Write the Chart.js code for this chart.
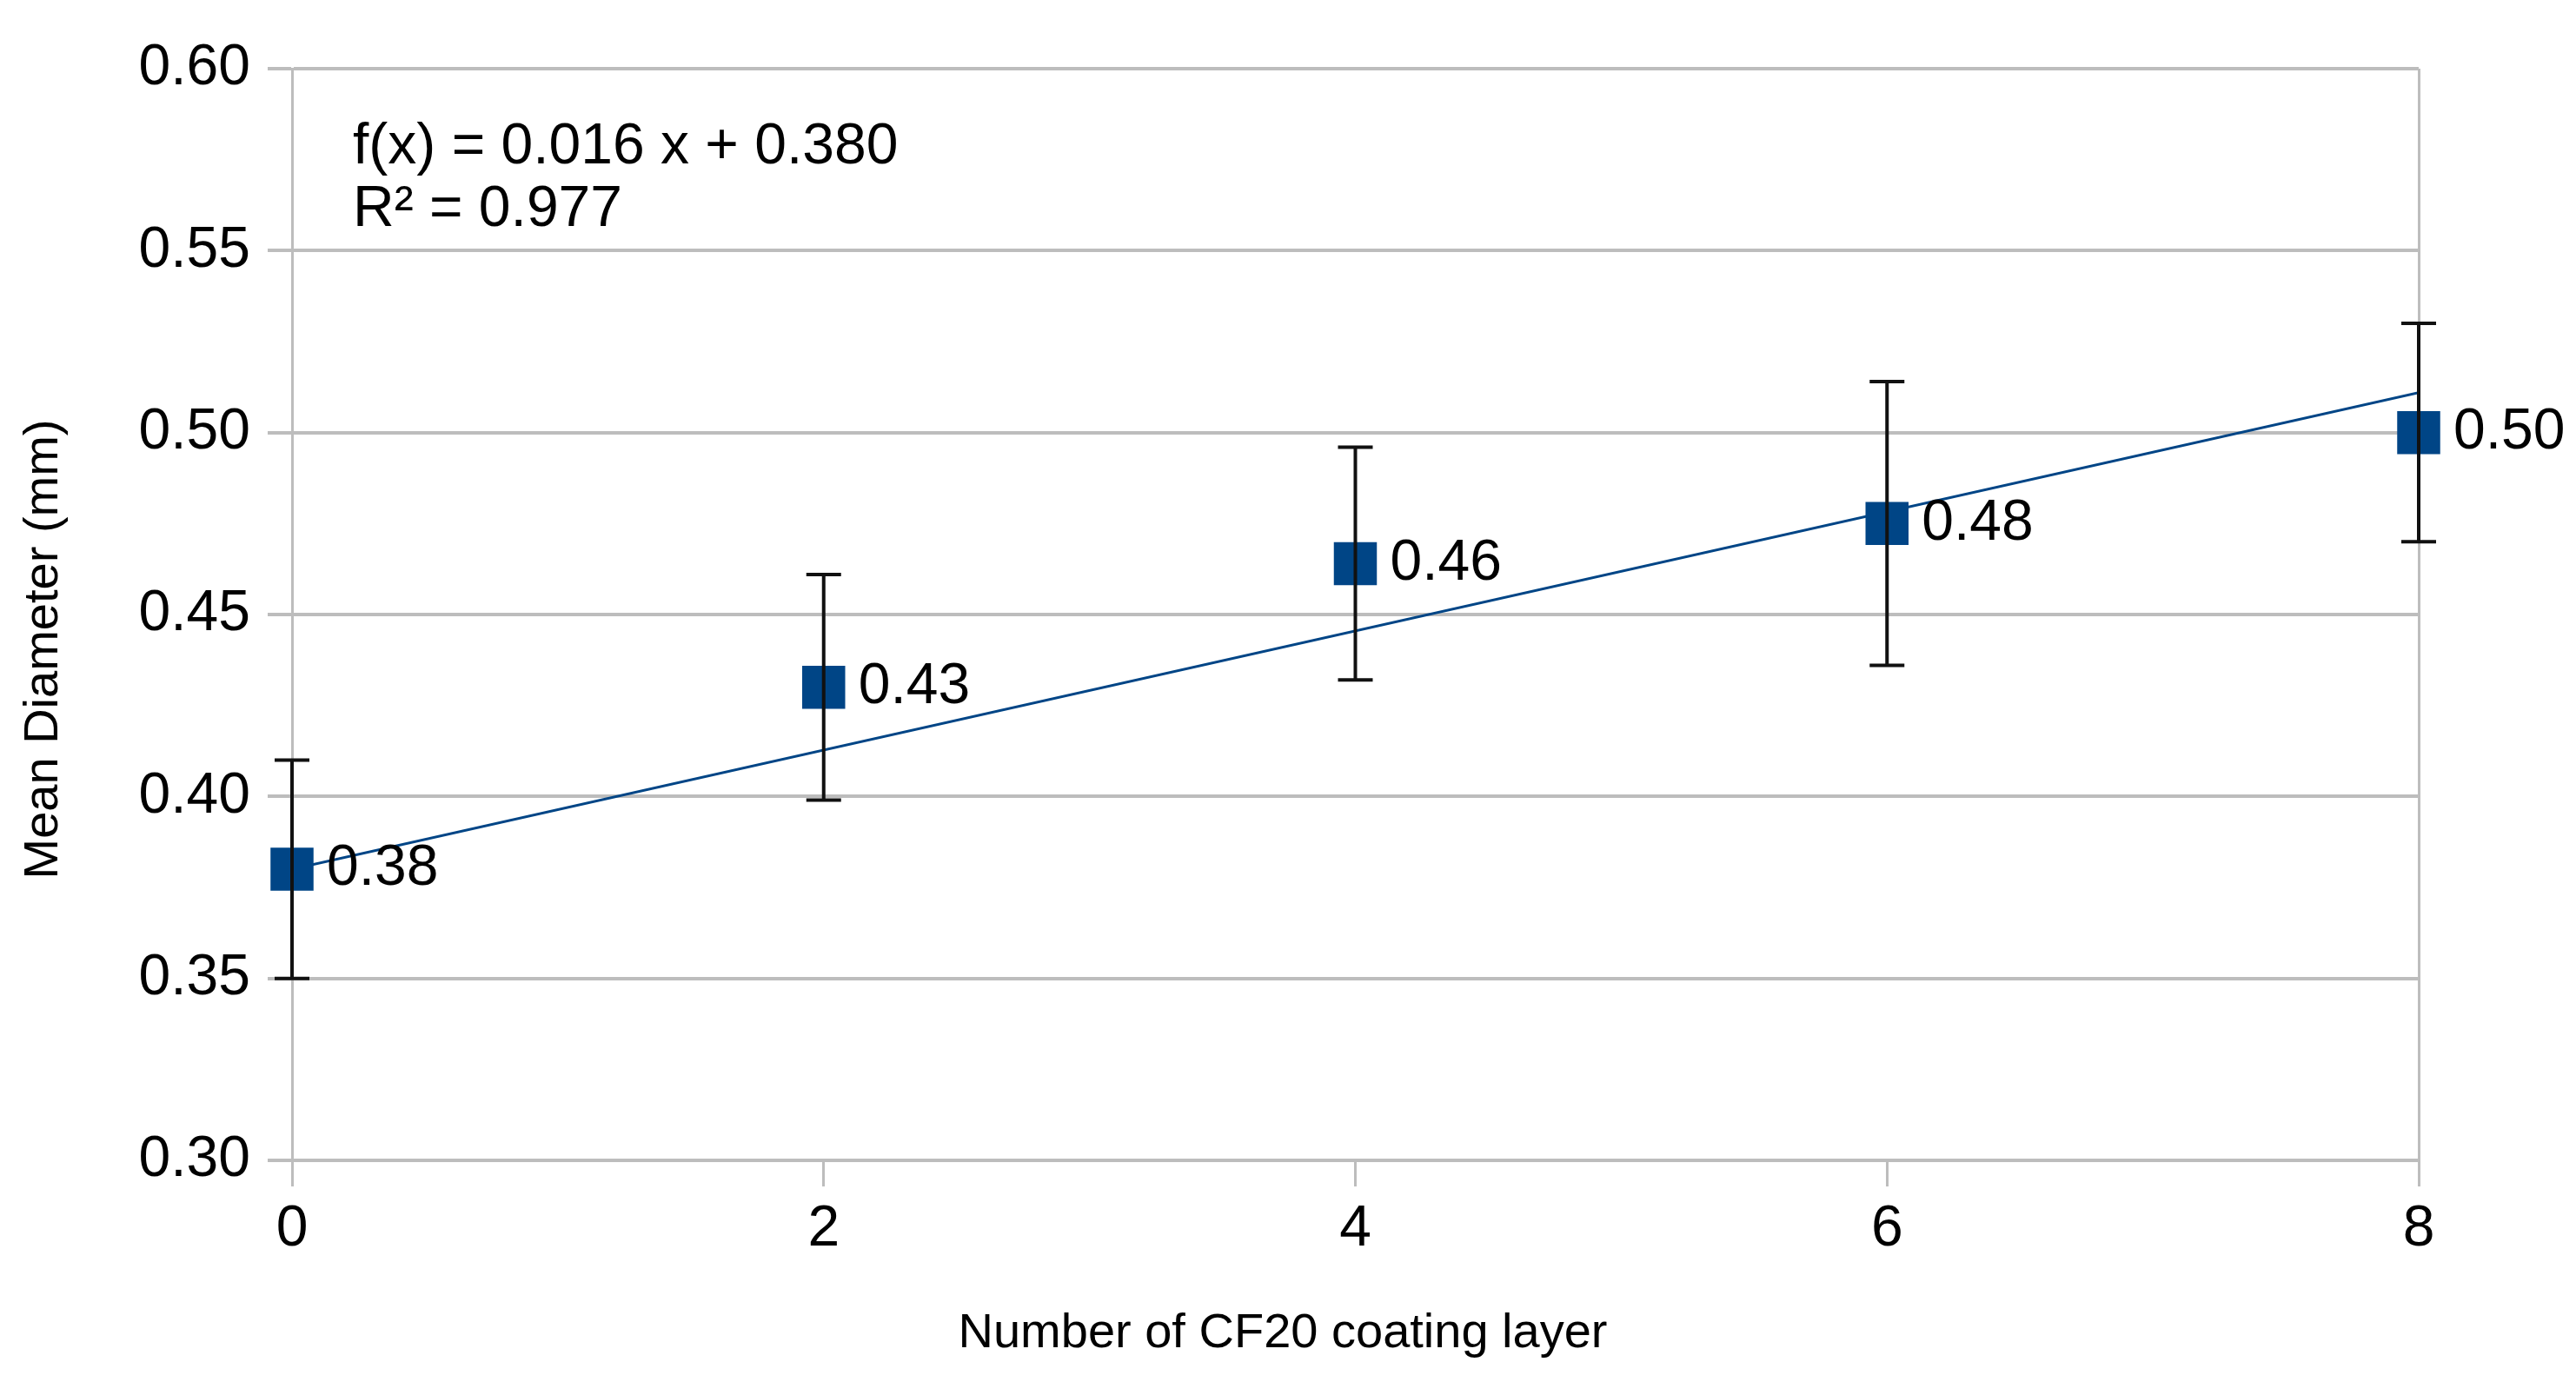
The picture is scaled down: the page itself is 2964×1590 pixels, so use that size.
<!DOCTYPE html>
<html lang="en">
<head>
  <meta charset="UTF-8" />
  <title>Mean Diameter vs CF20 coating layers</title>
  <script src="https://cdn.jsdelivr.net/npm/chart.js"></script>
  <style>
    html, body { margin: 0; padding: 0; background: #fff; }
    #wrap { width: 2964px; height: 1590px; }
  </style>
</head>
<body>
  <div id="wrap"><canvas id="chart" width="2964" height="1590"></canvas></div>
  <script>
    // data
    const layers = [0, 2, 4, 6, 8];
    const meanDiameter = [0.380, 0.430, 0.464, 0.475, 0.500];
    const errorSize = [0.030, 0.031, 0.032, 0.039, 0.030];
    const trendX = [0, 8];
    const trendY = [0.380, 0.511];
    const equationLines = ['f(x) = 0.016 x + 0.380', 'R\u00b2 = 0.977'];
    const yTicks = [0.30, 0.35, 0.40, 0.45, 0.50, 0.55, 0.60];
    const xTicks = [0, 2, 4, 6, 8];
    const xTitle = 'Number of CF20 coating layer';
    const yTitle = 'Mean Diameter (mm)';

    const FONT = '"Liberation Sans", Arial, sans-serif';
    const BLUE = '#004586';
    const GRID = '#bdbdbd';

    const fmt = v => (Math.round(v * 100 + 1e-6) / 100).toFixed(2);

    const extras = {
      id: 'extras',
      afterDatasetsDraw(chart) {
        const { ctx, scales: { x, y } } = chart;
        ctx.save();
        // error bars
        ctx.strokeStyle = '#111';
        ctx.lineWidth = 4;
        layers.forEach((lx, i) => {
          const px = x.getPixelForValue(lx);
          const top = y.getPixelForValue(meanDiameter[i] + errorSize[i]);
          const bot = y.getPixelForValue(meanDiameter[i] - errorSize[i]);
          ctx.beginPath();
          ctx.moveTo(px, top); ctx.lineTo(px, bot);
          ctx.moveTo(px - 20, top); ctx.lineTo(px + 20, top);
          ctx.moveTo(px - 20, bot); ctx.lineTo(px + 20, bot);
          ctx.stroke();
        });
        // value labels
        ctx.fillStyle = '#000';
        ctx.font = '66px ' + FONT;
        ctx.textAlign = 'left';
        ctx.textBaseline = 'middle';
        layers.forEach((lx, i) => {
          ctx.fillText(fmt(meanDiameter[i]), x.getPixelForValue(lx) + 40, y.getPixelForValue(meanDiameter[i]));
        });
        // regression equation
        ctx.fillText(equationLines[0], 406, 170);
        ctx.fillText(equationLines[1], 406, 242);
        // axis titles
        ctx.font = '56px ' + FONT;
        ctx.textAlign = 'center';
        ctx.fillText(xTitle, 1476, 1535);
        ctx.translate(51, 747);
        ctx.rotate(-Math.PI / 2);
        ctx.fillText(yTitle, 0, 0);
        ctx.restore();
      }
    };

    new Chart(document.getElementById('chart').getContext('2d'), {
      type: 'scatter',
      data: {
        datasets: [
          {
            label: 'trend',
            type: 'line',
            data: trendX.map((v, i) => ({ x: v, y: trendY[i] })),
            borderColor: BLUE,
            borderWidth: 3,
            pointRadius: 0,
            order: 2
          },
          {
            label: 'Mean Diameter',
            data: layers.map((v, i) => ({ x: v, y: meanDiameter[i] })),
            backgroundColor: BLUE,
            borderColor: BLUE,
            borderWidth: 0,
            pointStyle: 'rect',
            pointRadius: 35,
            clip: false,
            order: 1
          }
        ]
      },
      options: {
        responsive: false,
        animation: false,
        devicePixelRatio: 1,
        layout: { padding: { left: 0, right: 181, top: 79, bottom: 0 } },
        plugins: { legend: { display: false }, tooltip: { enabled: false } },
        scales: {
          x: {
            type: 'linear',
            min: 0,
            max: 8,
            afterBuildTicks: s => { s.ticks = xTicks.map(v => ({ value: v })); },
            afterFit: s => { s.height = 255; },
            grid: {
              color: c => (c.tick && (c.tick.value === 0 || c.tick.value === 8)) ? GRID : 'rgba(0,0,0,0)',
              tickColor: GRID,
              lineWidth: 3,
              tickLength: 30
            },
            border: { display: false },
            ticks: { color: '#000', font: { family: FONT, size: 66 }, padding: 10 }
          },
          y: {
            min: 0.30,
            max: 0.60,
            afterBuildTicks: s => { s.ticks = yTicks.map(v => ({ value: v })); },
            afterFit: s => { s.width = 336; },
            grid: { color: GRID, tickColor: GRID, lineWidth: 4, tickLength: 28 },
            border: { display: true, color: GRID, width: 3 },
            ticks: { color: '#000', font: { family: FONT, size: 66 }, padding: 20, callback: v => v.toFixed(2) }
          }
        }
      },
      plugins: [extras]
    });
  </script>
</body>
</html>
